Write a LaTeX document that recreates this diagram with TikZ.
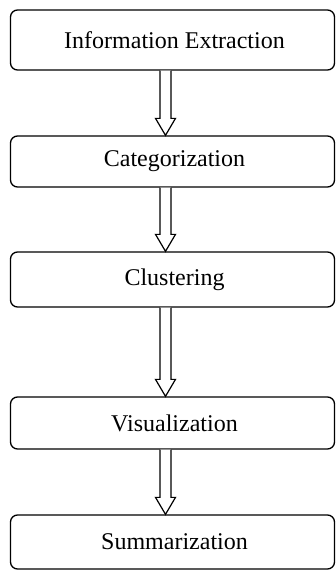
\documentclass[tikz,border=0pt]{standalone}
\usepackage{fontspec}
\setmainfont{Liberation Serif}
\usetikzlibrary{calc}
\begin{document}
\begin{tikzpicture}[x=1pt,y=-1pt,
  box/.style={draw, line width=1.3pt, rounded corners=7pt, minimum width=324pt, inner sep=0pt,
    font=\fontsize{24}{27}\selectfont, text=black},
  arr/.style={draw, line width=1.2pt, fill=white, line join=miter}]
\useasboundingbox (0,0) rectangle (336,571);
\node[box, minimum height=60pt] (a) at (172.5,40) {\hspace*{4pt}Information Extraction};
\node[box, minimum height=51pt] (b) at (172.5,161.5) {\hspace*{4pt}Categorization};
\node[box, minimum height=55pt] (c) at (172.5,279.5) {\hspace*{4pt}Clustering};
\node[box, minimum height=52pt] (d) at (172.5,423) {\hspace*{4pt}Visualization};
\node[box, minimum height=54pt] (e) at (172.5,542) {\hspace*{4pt}Summarization};
\coordinate (ax) at (165.5,0);
\foreach \s/\t in {a/b,b/c,c/d,d/e}{
  \draw[arr] ($(ax|-\s.south)+(-5.5,0)$) -- ($(ax|-\t.north)+(-5.5,-17)$)
    -- ($(ax|-\t.north)+(-10,-17)$) -- (ax|-\t.north)
    -- ($(ax|-\t.north)+(10,-17)$) -- ($(ax|-\t.north)+(5.5,-17)$)
    -- ($(ax|-\s.south)+(5.5,0)$);
}
\end{tikzpicture}
\end{document}
